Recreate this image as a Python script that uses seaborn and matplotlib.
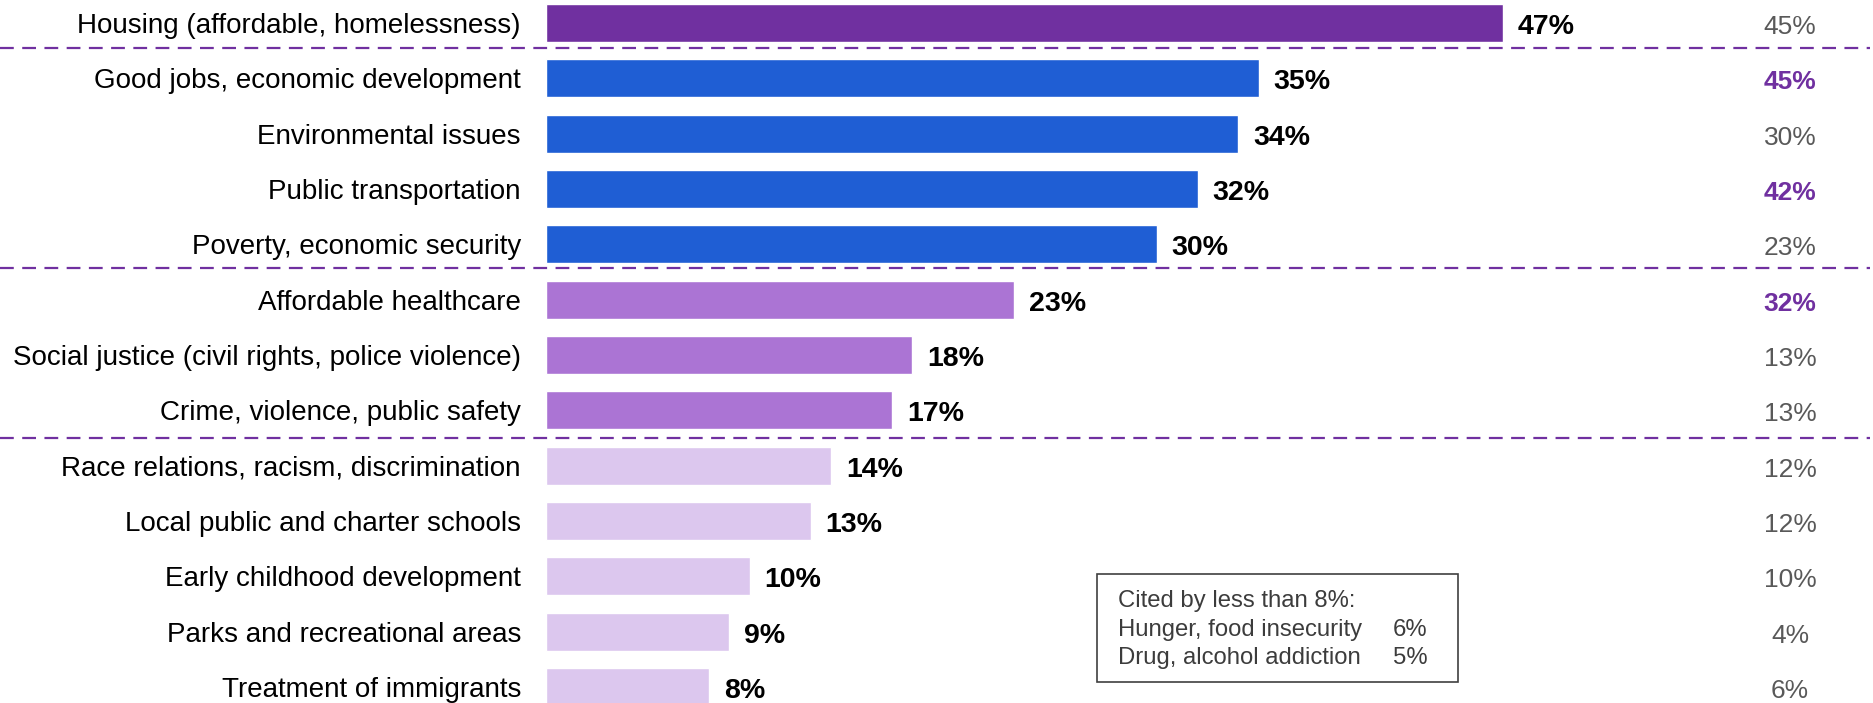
import matplotlib
matplotlib.use("Agg")
import matplotlib.pyplot as plt
import matplotlib.transforms as mtransforms
from matplotlib.patches import Rectangle
import seaborn as sns
import pandas as pd

# Issues cited as most important (current %), and the earlier wave shown at right
categories = [
    "Housing (affordable, homelessness)",
    "Good jobs, economic development",
    "Environmental issues",
    "Public transportation",
    "Poverty, economic security",
    "Affordable healthcare",
    "Social justice (civil rights, police violence)",
    "Crime, violence, public safety",
    "Race relations, racism, discrimination",
    "Local public and charter schools",
    "Early childhood development",
    "Parks and recreational areas",
    "Treatment of immigrants",
]
current = [47, 35, 34, 32, 30, 23, 18, 17, 14, 13, 10, 9, 8]
prior = [45, 45, 30, 42, 23, 32, 13, 13, 12, 12, 10, 4, 6]
prior_highlight = [False, True, False, True, False, True, False, False,
                   False, False, False, False, False]
tier = ["top", "high", "high", "high", "high", "mid", "mid", "mid",
        "low", "low", "low", "low", "low"]

minor_items = ["Hunger, food insecurity", "Drug, alcohol addiction"]
minor_values = [6, 5]
minor_title = "Cited by less than 8%:"

tier_colors = {"top": "#7030A0", "high": "#1F5ED4", "mid": "#AB74D4", "low": "#DCC7EE"}
purple = "#7030A0"
grey_text = "#595959"
box_text = "#3C3C3C"

sns.set_theme(style="white")
plt.rcParams["font.family"] = ["Liberation Sans", "DejaVu Sans"]

df = pd.DataFrame({"category": categories, "value": current, "tier": tier})
palette = {c: tier_colors[t] for c, t in zip(categories, tier)}

W, H = 1874, 703
fig = plt.figure(figsize=(W / 100, H / 100), dpi=100)
px_per_pct = 20.36
row_px = 55.33
ax_left = 546
ax = fig.add_axes([ax_left / W, 0, 1 - ax_left / W, 1])

sns.barplot(data=df, x="value", y="category", hue="category", palette=palette,
            legend=False, orient="h", width=0.687, ax=ax, saturation=1)

xmax = (W - ax_left) / px_per_pct
ax.set_xlim(0, xmax)
top_off = 23 / row_px
ax.set_ylim((H - 23) / row_px, -top_off)

for s in ax.spines.values():
    s.set_visible(False)
ax.set_xticks([])
ax.set_xlabel("")
ax.set_ylabel("")
ax.tick_params(axis="y", length=0, pad=18, labelsize=20, labelcolor="black")

# numbers sit slightly below the bar centre line
num_dy = 0.07

# value labels at bar ends
label_gap = 15 / px_per_pct
for i, v in enumerate(current):
    ax.text(v + label_gap, i + num_dy, f"{v}%", va="center", ha="left",
            fontsize=20.5, fontweight="bold", color="black")

# earlier-wave column
prior_x = (1790 - ax_left) / px_per_pct
for i, (v, hl) in enumerate(zip(prior, prior_highlight)):
    ax.text(prior_x, i + num_dy, f"{v}%", va="center", ha="center", fontsize=19,
            fontweight="bold" if hl else "normal",
            color=purple if hl else grey_text)

# dashed separators between tiers, spanning the full width
trans = mtransforms.blended_transform_factory(fig.transFigure, ax.transData)
for y in [0.446, 4.42, 7.495]:
    ax.plot([0, 0.998], [y, y], transform=trans, color=purple, lw=1.6,
            dashes=(6.2, 3.8), clip_on=False)

# box listing items below the cutoff
bx0 = (1097 - ax_left) / px_per_pct
bx1 = (1458 - ax_left) / px_per_pct
by0 = (574 - 23) / row_px
by1 = (682 - 23) / row_px
ax.add_patch(Rectangle((bx0, by0), bx1 - bx0, by1 - by0, fill=False,
                       edgecolor="#404040", lw=1.2, clip_on=False))
tx = (1118 - ax_left) / px_per_pct
pct_x = (1393 - ax_left) / px_per_pct
ax.text(tx, (601 - 23) / row_px, minor_title, va="center", ha="left",
        fontsize=17.2, color=box_text)
for k, (name, val) in enumerate(zip(minor_items, minor_values)):
    yy = (630 + 28 * k - 23) / row_px
    ax.text(tx, yy, name, va="center", ha="left", fontsize=17.2, color=box_text)
    ax.text(pct_x, yy, f"{val}%", va="center", ha="left", fontsize=17.2, color=box_text)

fig.savefig("out.png", dpi=100)
